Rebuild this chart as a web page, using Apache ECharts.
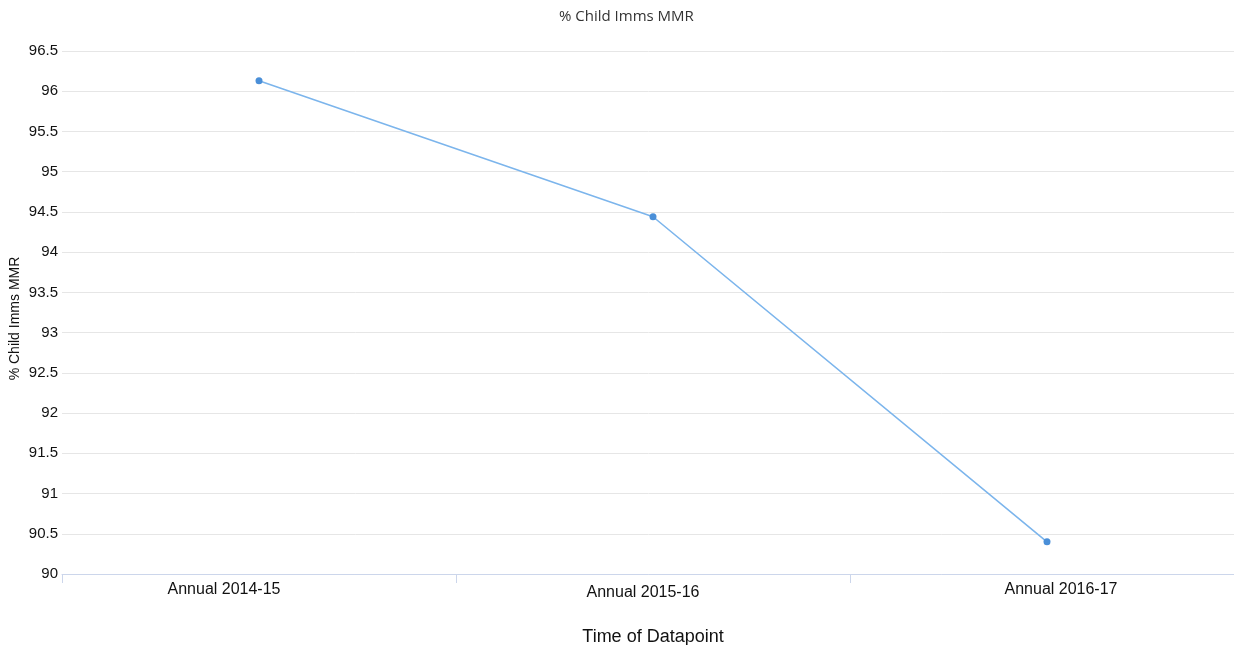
<!DOCTYPE html>
<html>
<head>
<meta charset="utf-8">
<script src="https://cdn.jsdelivr.net/npm/echarts@6/dist/echarts.min.js"></script>
<style>
  html, body { margin: 0; padding: 0; background: #fff; }
  #chart { width: 1234px; height: 645px; }
</style>
</head>
<body>
<div id="chart"></div>
<script>
// Time periods on the x axis
const periods = ['Annual 2014-15', 'Annual 2015-16', 'Annual 2016-17'];
// % of children immunised with MMR per period
const mmrRate = [96.13, 94.44, 90.40];
// Value axis range
const yMin = 90;
const yMax = 96.5;
const yStep = 0.5;

// Label nudges per category: [top, right, bottom, left] padding
const labelPad = [[0, 70, 0, 0], [3, 20, 0, 0], [0, 0, 0, 28]];
const labelFont = { fontFamily: 'Liberation Sans', fontSize: 16, color: '#111111' };

const chart = echarts.init(document.getElementById('chart'));
chart.setOption({
  backgroundColor: '#ffffff',
  animation: false,
  title: {
    text: '% Child Imms MMR',
    left: 554,
    top: 4,
    textStyle: {
      fontFamily: 'Open Sans',
      fontSize: 15,
      fontWeight: 'normal',
      color: '#333333'
    }
  },
  grid: { left: 62, right: -10, top: 51, bottom: 71, containLabel: false, outerBoundsMode: 'none' },
  xAxis: {
    type: 'category',
    data: periods,
    boundaryGap: true,
    name: 'Time of Datapoint',
    nameLocation: 'middle',
    nameGap: 54,
    nameTextStyle: { fontFamily: 'Liberation Sans', fontSize: 18, color: '#111111' },
    axisLine: { lineStyle: { color: '#ccd6eb', width: 1 } },
    axisTick: { show: true, length: 9, lineStyle: { color: '#ccd6eb' } },
    axisLabel: {
      margin: 8,
      ...labelFont,
      formatter: (v, i) => '{p' + i + '|' + v + '}',
      rich: {
        p0: { ...labelFont, padding: labelPad[0] },
        p1: { ...labelFont, padding: labelPad[1] },
        p2: { ...labelFont, padding: labelPad[2] }
      }
    },
    splitLine: { show: false }
  },
  yAxis: {
    type: 'value',
    min: yMin,
    max: yMax,
    interval: yStep,
    name: '% Child Imms MMR',
    nameLocation: 'middle',
    nameRotate: 90,
    nameGap: 40,
    nameMoveOverlap: false,
    nameTextStyle: { fontFamily: 'Liberation Sans', fontSize: 14, color: '#111111', padding: [0, 0, 0, -12] },
    axisLine: { show: false },
    axisTick: { show: false },
    axisLabel: { margin: 4, fontFamily: 'Liberation Sans', fontSize: 15, color: '#111111' },
    splitLine: { lineStyle: { color: '#e6e6e6', width: 1 } }
  },
  series: [{
    type: 'line',
    data: mmrRate,
    symbol: 'circle',
    symbolSize: 7,
    lineStyle: { color: '#7cb5ec', width: 1.6 },
    itemStyle: { color: '#4a8fd8' }
  }]
});
</script>
</body>
</html>
